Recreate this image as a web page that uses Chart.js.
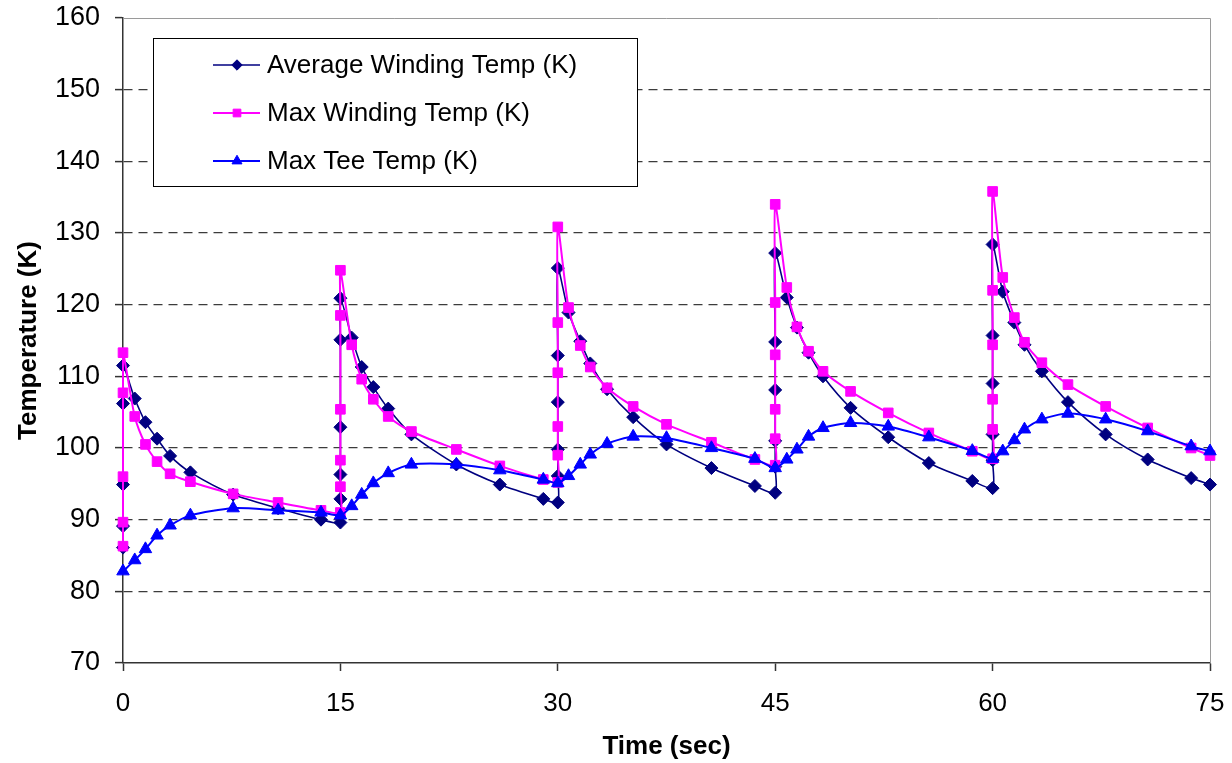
<!DOCTYPE html>
<html>
<head>
<meta charset="utf-8">
<script src="https://cdn.jsdelivr.net/npm/chart.js@4.4.0/dist/chart.umd.min.js"></script>
<style>
  html, body { margin: 0; padding: 0; background: #fff; }
  #wrap { width: 1232px; height: 763px; }
</style>
</head>
<body>
<div id="wrap"><canvas id="c" width="1232" height="763"></canvas></div>
<script>
// ---- data ----
const seriesNames = ['Average Winding Temp (K)', 'Max Winding Temp (K)', 'Max Tee Temp (K)'];

const avgTime = [0,0,0,0,0, 0.81,1.55,2.35,3.25,4.65,7.6,10.7,13.66,
  15,15,15,15,15,15, 15.78,16.47,17.27,18.3,19.9,23.0,26.0,29.0,
  30,30,30,30,30,30, 30.74,31.55,32.24,33.4,35.2,37.5,40.6,43.6,
  45,45,45,45,45,45, 45.8,46.5,47.3,48.3,50.2,52.8,55.6,58.6,
  60,60,60,60,60,60, 60.7,61.5,62.2,63.4,65.2,67.8,70.7,73.7,75];
const avgTemp = [86.1,89.1,94.9,106.2,111.5, 106.9,103.6,101.3,98.9,96.6,93.5,91.6,90.0,
  89.6,92.9,96.3,102.9,115.1,120.9, 115.4,111.3,108.5,105.5,101.9,97.7,94.9,92.9,
  92.4,96.1,99.8,106.4,112.9,125.1, 118.9,114.9,111.8,108.2,104.3,100.5,97.2,94.7,
  93.75,97.4,101.0,108.1,114.8,127.2, 121.0,116.8,113.3,110.0,105.6,101.5,97.9,95.4,
  94.4,98.3,101.9,109.0,115.7,128.4, 121.8,117.5,114.4,110.7,106.4,101.9,98.4,95.8,94.9];

const maxTime = [0,0,0,0,0, 0.81,1.55,2.35,3.25,4.65,7.6,10.7,13.66,
  15,15,15,15,15,15, 15.78,16.47,17.27,18.3,19.9,23.0,26.0,29.0,
  30,30,30,30,30,30, 30.74,31.55,32.24,33.4,35.2,37.5,40.6,43.6,
  45,45,45,45,45,45, 45.8,46.5,47.3,48.3,50.2,52.8,55.6,58.6,
  60,60,60,60,60,60, 60.7,61.5,62.2,63.4,65.2,67.8,70.7,73.7,75];
const maxTemp = [86.3,89.65,96.0,107.7,113.3, 104.4,100.5,98.1,96.4,95.3,93.6,92.4,91.3,
  91.0,94.6,98.3,105.4,118.5,124.8, 114.4,109.6,106.8,104.4,102.3,99.8,97.5,95.6,
  95.2,99.0,103.0,110.5,117.5,130.85, 119.6,114.3,111.3,108.4,105.8,103.3,100.8,98.4,
  97.6,101.3,105.4,113.0,120.3,134.0, 122.4,116.9,113.5,110.7,107.9,104.9,102.1,99.55,
  98.5,102.6,106.8,114.4,122.0,135.8, 123.8,118.2,114.75,111.9,108.85,105.8,102.8,100.0,98.95];

const teeTime = [0,0.81,1.55,2.35,3.25,4.65,7.6,10.7,13.66,
  15,15.78,16.47,17.27,18.3,19.9,23.0,26.0,29.0,
  30,30.74,31.55,32.24,33.4,35.2,37.5,40.6,43.6,
  45,45.8,46.5,47.3,48.3,50.2,52.8,55.6,58.6,
  60,60.7,61.5,62.2,63.4,65.2,67.8,70.7,73.7,75];
const teeTemp = [82.8,84.35,85.9,87.8,89.2,90.6,91.6,91.3,91.0,
  90.6,91.9,93.5,95.1,96.5,97.7,97.7,96.9,95.6,
  95.1,96.1,97.7,99.1,100.6,101.6,101.4,100.0,98.5,
  97.2,98.4,99.8,101.6,102.8,103.5,103.0,101.5,99.6,
  98.5,99.55,101.1,102.6,104.0,104.8,104.0,102.35,100.25,99.55];

const xTickValues = [0, 15, 30, 45, 60, 75];
const yTickValues = [70, 80, 90, 100, 110, 120, 130, 140, 150, 160];

// ---- build ----
const pts = (t, v) => t.map((x, i) => ({ x: x, y: v[i] }));
const FONT = '"Liberation Sans", Arial, Helvetica, sans-serif';
Chart.defaults.font.family = FONT;
Chart.defaults.color = '#000';

const frame = {
  id: 'frame',
  beforeDatasetsDraw(chart) {
    const { ctx, chartArea: a } = chart;
    ctx.save();
    ctx.strokeStyle = '#9a9a9a';
    ctx.lineWidth = 1;
    ctx.beginPath();
    ctx.moveTo(a.left, a.top + 0.5);
    ctx.lineTo(a.right + 0.5, a.top + 0.5);
    ctx.lineTo(a.right + 0.5, a.bottom);
    ctx.stroke();
    ctx.restore();
  }
};

function marker(ctx, style, x, y, r) {
  ctx.beginPath();
  if (style === 'rectRot') {
    ctx.moveTo(x - r, y); ctx.lineTo(x, y - r); ctx.lineTo(x + r, y); ctx.lineTo(x, y + r);
  } else if (style === 'rect') {
    const s = r * Math.SQRT1_2;
    ctx.rect(x - s, y - s, 2 * s, 2 * s);
  } else {
    ctx.moveTo(x, y - r);
    ctx.lineTo(x + r * Math.sin(2 * Math.PI / 3), y - r * Math.cos(2 * Math.PI / 3));
    ctx.lineTo(x + r * Math.sin(4 * Math.PI / 3), y - r * Math.cos(4 * Math.PI / 3));
  }
  ctx.closePath();
  ctx.fill();
  ctx.stroke();
}

const boxLegend = {
  id: 'boxLegend',
  afterDraw(chart) {
    const { ctx, chartArea: a } = chart;
    const x0 = a.left + 30, y0 = a.top + 20, w = 484, h = 148;
    ctx.save();
    ctx.fillStyle = '#fff';
    ctx.fillRect(x0, y0, w, h);
    ctx.strokeStyle = '#000';
    ctx.lineWidth = 1;
    ctx.strokeRect(x0 + 0.5, y0 + 0.5, w, h);
    chart.data.datasets.forEach((ds, i) => {
      const y = y0 + 27 + i * 48;
      ctx.strokeStyle = ds.borderColor;
      ctx.lineWidth = ds.borderWidth;
      ctx.beginPath();
      ctx.moveTo(x0 + 60, y); ctx.lineTo(x0 + 107, y);
      ctx.stroke();
      ctx.fillStyle = ds.pointBackgroundColor;
      ctx.lineWidth = 1;
      marker(ctx, ds.pointStyle, x0 + 84, y, ds.pointRadius * 0.8);
      ctx.fillStyle = '#000';
      ctx.font = '26px ' + FONT;
      ctx.textBaseline = 'middle';
      ctx.textAlign = 'left';
      ctx.fillText(ds.label, x0 + 114, y + 1);
    });
    ctx.restore();
  }
};

const common = { showLine: true, fill: false, tension: 0.25, clip: false, pointBorderWidth: 1 };

new Chart(document.getElementById('c'), {
  type: 'scatter',
  data: {
    datasets: [
      Object.assign({}, common, {
        label: seriesNames[0], data: pts(avgTime, avgTemp), order: 3,
        borderColor: '#000080', backgroundColor: '#000080',
        pointBackgroundColor: '#000080', pointBorderColor: '#000080',
        borderWidth: 1.6, pointStyle: 'rectRot', pointRadius: 6.5
      }),
      Object.assign({}, common, {
        label: seriesNames[1], data: pts(maxTime, maxTemp), order: 2,
        borderColor: '#ff00ff', backgroundColor: '#ff00ff',
        pointBackgroundColor: '#ff00ff', pointBorderColor: '#ff00ff',
        borderWidth: 2, pointStyle: 'rect', pointRadius: 6.8
      }),
      Object.assign({}, common, {
        label: seriesNames[2], data: pts(teeTime, teeTemp), order: 1,
        borderColor: '#0000ff', backgroundColor: '#0000ff',
        pointBackgroundColor: '#0000ff', pointBorderColor: '#0000ff',
        borderWidth: 2, pointStyle: 'triangle', pointRadius: 7.2
      })
    ]
  },
  options: {
    responsive: false,
    animation: false,
    devicePixelRatio: 1,
    layout: { padding: { left: 0, right: 22, top: 18, bottom: 0 } },
    plugins: { legend: { display: false }, tooltip: { enabled: false } },
    scales: {
      x: {
        type: 'linear', min: 0, max: 75,
        afterBuildTicks: s => { s.ticks = xTickValues.map(v => ({ value: v })); },
        afterFit: s => { s.height = 100; s.paddingLeft = 0; s.paddingRight = 0; },
        ticks: { color: '#000', padding: 17, font: { size: 26 } },
        grid: { drawOnChartArea: false, tickLength: 8, tickColor: '#333', tickWidth: 1.5 },
        border: { color: '#333', width: 1.5 },
        title: { display: true, text: 'Time (sec)', color: '#000', font: { size: 26, weight: 'bold' }, padding: { top: 0, bottom: 1 } }
      },
      y: {
        type: 'linear', min: 70, max: 160,
        afterBuildTicks: s => { s.ticks = yTickValues.map(v => ({ value: v })); },
        afterFit: s => { s.width = 123; s.paddingTop = 0; s.paddingBottom = 0; },
        ticks: { color: '#000', padding: 15, font: { size: 27 } },
        grid: {
          color: c => (c.tick && (c.tick.value === 70 || c.tick.value === 160)) ? 'rgba(0,0,0,0)' : '#3c3c3c',
          lineWidth: 1.2, tickLength: 8, tickColor: '#333', tickWidth: 1.5, tickBorderDash: []
        },
        border: { color: '#333', width: 1.5, dash: [9, 6] },
        title: { display: true, text: 'Temperature (K)', color: '#000', font: { size: 26, weight: 'bold' }, padding: { top: 13, bottom: 0 } }
      }
    }
  },
  plugins: [frame, boxLegend]
});
</script>
</body>
</html>
